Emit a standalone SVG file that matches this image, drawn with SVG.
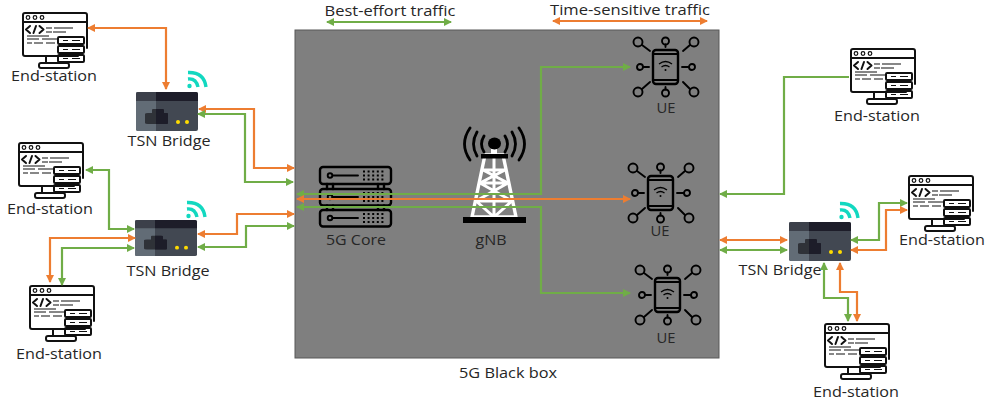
<svg xmlns="http://www.w3.org/2000/svg" width="986" height="407" viewBox="0 0 986 407">
<style>
text{font-family:"Open Sans","Noto Sans","DejaVu Sans",sans-serif;font-size:15px;fill:#262626;text-anchor:middle}
.o,.g{fill:none;stroke-width:2.2}
.o{stroke:#ed7d31}
.g{stroke:#70ad47}
.k{fill:none;stroke:#111;stroke-width:2;stroke-linecap:round;stroke-linejoin:round}
.kt{fill:none;stroke:#111;stroke-width:1.2}
.s{fill:none;stroke:#000;stroke-width:2.4;stroke-linejoin:round;stroke-linecap:round}
.u{fill:none;stroke:#000;stroke-width:1.9;stroke-linejoin:round;stroke-linecap:round}
.d{fill:none;stroke:#000;stroke-width:1.8;stroke-dasharray:2 2.6}
</style>
<defs>
<marker id="ao" viewBox="0 0 8 8" refX="7" refY="4" markerWidth="8" markerHeight="8" markerUnits="userSpaceOnUse" orient="auto-start-reverse"><path d="M0 0L8 4L0 8z" fill="#ed7d31"/></marker>
<marker id="ag" viewBox="0 0 8 8" refX="7" refY="4" markerWidth="8" markerHeight="8" markerUnits="userSpaceOnUse" orient="auto-start-reverse"><path d="M0 0L8 4L0 8z" fill="#70ad47"/></marker>
<symbol id="es" width="66" height="57" viewBox="0 0 66 57" overflow="visible">
<path class="k" d="M51 44H3Q1 44 1 42V3Q1 1 3 1H63Q65 1 65 3V36M1 10H65M20 44H30M38 44H56"/>
<circle cx="6" cy="5.500" r="1.800" class="kt"/><circle cx="13" cy="5.500" r="1.800" class="kt"/><circle cx="20" cy="5.500" r="1.800" class="kt"/>
<path class="k" d="M8 14L4 17.500L8 21M14 14L11.500 21M17.500 14L21.500 17.500L17.500 21"/>
<path class="kt" d="M24 16H30M32 16H51M24 20H30M31 20H44M5 24H27M5 27H17M20 27H35M5 31H10M12 31H21M24 31H33"/>
<rect x="36" y="25" width="26" height="7" rx="1" class="k"/><rect x="36" y="34" width="26" height="7" rx="1" class="k"/><rect x="36" y="43" width="26" height="7" rx="1" class="k"/>
<path class="kt" d="M41 28.500H46M50 28.500H58M41 37.500H46M50 37.500H58M41 46.500H46M50 46.500H58"/>
<path class="k" d="M24 45V50M38 50V51"/>
<rect x="17" y="51" width="30" height="5" rx="2" class="k"/>
</symbol>
<symbol id="br" width="62" height="39" viewBox="0 0 62 39" preserveAspectRatio="none" overflow="visible">
<rect width="62" height="39" rx="2" fill="#424852"/>
<path d="M2 0H20V39H2Q0 39 0 37V2Q0 0 2 0z" fill="#626c76"/>
<path d="M2 0H20V9H0V2Q0 0 2 0z" fill="#3c404a"/>
<path d="M20 0H60Q62 0 62 2V9H20z" fill="#1d1d29"/>
<path d="M12 21H16V18Q16 17 17 17H26Q28 17 28 18V21H31Q32 21 32 22V31Q32 32 31 32H12Q9 32 9 31V22Q9 21 12 21z" fill="#2f3238"/>
<path d="M20 17H26Q28 17 28 18V21H31Q32 21 32 22V31Q32 32 31 32H20z" fill="#1d1d29"/>
<circle cx="42" cy="30" r="2" fill="#ffdc00"/><circle cx="51" cy="30" r="2" fill="#ffdc00"/>
</symbol>
<symbol id="wf" width="21" height="18" viewBox="0 0 21 18" overflow="visible">
<circle cx="2.500" cy="15" r="2.200" fill="#12d8c0"/>
<path d="M1 8Q9 7 11 16M1 1.500Q17 1 19 16" fill="none" stroke="#12d8c0" stroke-width="3.400"/>
</symbol>
<symbol id="ue" width="70" height="70" viewBox="-35 -35 70 70" overflow="visible">
<rect x="-12" y="-17" width="25" height="34" rx="3" class="s"/>
<path class="u" d="M-12 -13H13M-12 13H13"/>
<path d="M-6 -3Q0.500 -8 7 -3M-3.500 0Q0.500 -3 4.500 0" fill="none" stroke="#000" stroke-width="1.300"/><circle cx="0.500" cy="3" r="1" fill="#000"/>
<circle class="u" cx="-27" cy="-25" r="4.500"/><path class="u" d="M-23 -22L-15 -16"/>
<circle class="u" cx="0.500" cy="-26" r="3.500"/><path class="u" d="M0.500 -22.500V-20"/>
<circle class="u" cx="29" cy="-25" r="4.500"/><path class="u" d="M25 -22L18 -16"/>
<circle class="u" cx="-25" cy="0" r="3"/><path class="u" d="M-22 0H-16"/>
<circle class="u" cx="27" cy="0" r="3"/><path class="u" d="M24 0H17"/>
<circle class="u" cx="-27" cy="25" r="4.500"/><path class="u" d="M-23 22L-15 15"/>
<circle class="u" cx="0.500" cy="26" r="3.500"/><path class="u" d="M0.500 22.500V20"/>
<circle class="u" cx="29" cy="25" r="4.500"/><path class="u" d="M25 22L18 15"/>
</symbol>
</defs>

<g id="black-box"><rect x="295" y="30" width="424" height="328" fill="#7f7f7f" stroke="#595959"/><text x="508" y="378" textLength="98" lengthAdjust="spacingAndGlyphs">5G Black box</text></g>

<g id="core">
<rect class="s" x="320" y="167" width="71" height="17" rx="3"/><rect class="s" x="320" y="189" width="71" height="16.500" rx="3"/><rect class="s" x="320" y="210" width="71" height="16.500" rx="3"/>
<path class="s" d="M327 184V189M333 184V189M378 184V189M384 184V189M327 205.500V210M333 205.500V210M378 205.500V210M384 205.500V210"/>
<circle class="u" cx="330" cy="175.500" r="2.300"/><circle class="u" cx="330" cy="197" r="2.300"/><circle class="u" cx="330" cy="218" r="2.300"/>
<path class="u" d="M333 175.500H358M333 197H358M333 218H358"/>
<path class="d" d="M363 171.500H386M363 175.500H386M363 179.500H386M363 193H386M363 197H386M363 201H386M363 214H386M363 218H386M363 222H386"/>
<text x="356" y="245" textLength="60" lengthAdjust="spacingAndGlyphs">5G Core</text></g>

<g id="gnb">
<path d="M485 155H503L516 217H472z" fill="none" stroke="#fff" stroke-width="3.400"/>
<path d="M494 155V217M483 170H505M480 183H508M476 201H512M483 170L508 183M505 170L480 183M480 183L512 201M508 183L476 201M476 201L494 217M512 201L494 217" fill="none" stroke="#fff" stroke-width="3"/>
<rect x="491" y="149" width="6" height="6" fill="#fff"/>
<rect x="481" y="154" width="27" height="4.500" fill="#000"/>
<rect x="463" y="217" width="63" height="6" fill="#000"/>
<ellipse cx="494.500" cy="143.500" rx="6.500" ry="6" fill="#000"/>
<path d="M484 136Q479 144 484 152M505 136Q510 144 505 152M477 132Q470 144 477 156M512 132Q519 144 512 156M470 128Q459 144 470 160M519 128Q530 144 519 160" fill="none" stroke="#000" stroke-width="2.800" stroke-linecap="round"/>
<text x="491" y="245" textLength="31" lengthAdjust="spacingAndGlyphs">gNB</text>
</g>

<g id="ue1"><use href="#ue" x="630" y="32"/><text x="666" y="113" textLength="19" lengthAdjust="spacingAndGlyphs">UE</text></g>
<g id="ue2"><use href="#ue" x="625" y="158"/><text x="660" y="236" textLength="19" lengthAdjust="spacingAndGlyphs">UE</text></g>
<g id="ue3"><use href="#ue" x="632" y="260"/><text x="666" y="343" textLength="19" lengthAdjust="spacingAndGlyphs">UE</text></g>

<g id="bridge1"><use href="#br" x="136" y="92"/><use href="#wf" x="187" y="71"/><text x="169" y="146" textLength="83" lengthAdjust="spacingAndGlyphs">TSN Bridge</text></g>
<g id="bridge2"><use href="#br" x="135" y="220" width="62" height="36"/><use href="#wf" x="186" y="201"/><text x="168" y="276" textLength="83" lengthAdjust="spacingAndGlyphs">TSN Bridge</text></g>
<g id="bridge3"><use href="#br" x="789" y="222"/><use href="#wf" x="839" y="202"/><text x="780" y="275" textLength="83" lengthAdjust="spacingAndGlyphs">TSN Bridge</text></g>

<g id="es1"><use href="#es" x="22" y="12"/><text x="54" y="81" textLength="86" lengthAdjust="spacingAndGlyphs">End-station</text></g>
<g id="es2"><use href="#es" x="18" y="142"/><text x="50" y="214" textLength="86" lengthAdjust="spacingAndGlyphs">End-station</text></g>
<g id="es3"><use href="#es" x="29" y="285"/><text x="59" y="359" textLength="86" lengthAdjust="spacingAndGlyphs">End-station</text></g>
<g id="es4"><use href="#es" x="850" y="48"/><text x="877" y="121" textLength="86" lengthAdjust="spacingAndGlyphs">End-station</text></g>
<g id="es5"><use href="#es" x="908" y="175"/><text x="942" y="245" textLength="86" lengthAdjust="spacingAndGlyphs">End-station</text></g>
<g id="es6"><use href="#es" x="824" y="323"/><text x="856" y="397" textLength="86" lengthAdjust="spacingAndGlyphs">End-station</text></g>

<g id="legend"><text x="390" y="16" textLength="131" lengthAdjust="spacingAndGlyphs">Best-effort traffic</text><text x="630" y="15" style="font-size:14px" textLength="160" lengthAdjust="spacingAndGlyphs">Time-sensitive traffic</text></g>

<g id="connectors">
<path class="g" marker-start="url(#ag)" marker-end="url(#ag)" d="M327 22H451"/>
<path class="o" marker-start="url(#ao)" marker-end="url(#ao)" d="M553 21H707"/>
<path class="o" marker-start="url(#ao)" marker-end="url(#ao)" d="M88 28H166V89"/>
<path class="o" marker-start="url(#ao)" marker-end="url(#ao)" d="M199 109H254V168H294"/>
<path class="g" marker-start="url(#ag)" marker-end="url(#ag)" d="M198 114H245V182H293"/>
<path class="g" marker-start="url(#ag)" marker-end="url(#ag)" d="M86 170H109V229H134"/>
<path class="o" marker-start="url(#ao)" marker-end="url(#ao)" d="M198 234H237V214H294"/>
<path class="g" marker-start="url(#ag)" marker-end="url(#ag)" d="M198 247H246V226H294"/>
<path class="o" marker-start="url(#ao)" marker-end="url(#ao)" d="M135 238H50V282"/>
<path class="g" marker-start="url(#ag)" marker-end="url(#ag)" d="M134 248H62V285"/>
<path class="g" marker-start="url(#ag)" marker-end="url(#ag)" d="M297 194H541V67H630"/>
<path class="o" marker-start="url(#ao)" marker-end="url(#ao)" d="M297 199H630"/>
<path class="g" marker-start="url(#ag)" marker-end="url(#ag)" d="M297 207H541V293H630"/>
<path class="g" marker-start="url(#ag)" d="M720 194H784V77H849"/>
<path class="o" marker-start="url(#ao)" marker-end="url(#ao)" d="M720 240H787"/>
<path class="g" marker-start="url(#ag)" marker-end="url(#ag)" d="M720 250H787"/>
<path class="g" marker-start="url(#ag)" marker-end="url(#ag)" d="M851 240H879V203H907"/>
<path class="o" marker-start="url(#ao)" marker-end="url(#ao)" d="M851 250H886V210H907"/>
<path class="g" marker-start="url(#ag)" marker-end="url(#ag)" d="M824 263V298H848V321"/>
<path class="o" marker-start="url(#ao)" marker-end="url(#ao)" d="M840 263V292H857V321"/>
</g>
</svg>
